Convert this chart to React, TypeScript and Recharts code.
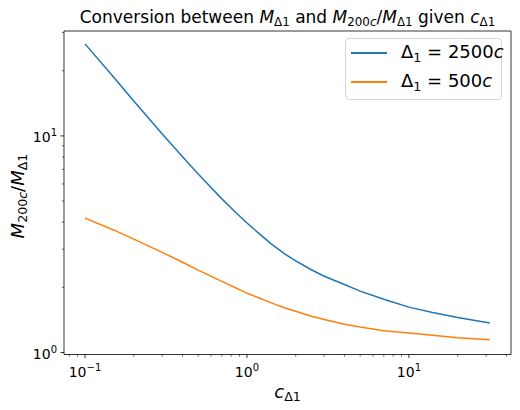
import React from "react";
import { LineChart, Line, XAxis, YAxis, Legend, Label } from "recharts";

// concentration c_Δ1 and the mass ratio M200c / M_Δ1 for each overdensity
const conc = [0.1, 0.15, 0.2, 0.3, 0.4, 0.5, 0.7, 0.85, 1, 1.2, 1.4, 1.7, 2, 2.5, 3, 4, 5, 7, 10, 14, 20, 31.6];
const ratio2500 = [26.6, 18.7, 14.5, 10.2, 8.02, 6.67, 5.12, 4.44, 3.96, 3.52, 3.19, 2.86, 2.65, 2.41, 2.25, 2.06, 1.92, 1.76, 1.62, 1.53, 1.45, 1.37];
const ratio500 = [4.17, 3.68, 3.34, 2.9, 2.61, 2.4, 2.13, 1.99, 1.88, 1.78, 1.7, 1.61, 1.55, 1.47, 1.42, 1.35, 1.31, 1.26, 1.23, 1.2, 1.17, 1.145];

const xMajor = [0.1, 1, 10];
const xMinor = [0.08, 0.09, 0.2, 0.3, 0.4, 0.5, 0.6, 0.7, 0.8, 0.9, 2, 3, 4, 5, 6, 7, 8, 9, 20, 30, 40];
const yMajor = [1, 10];
const yMinor = [2, 3, 4, 5, 6, 7, 8, 9, 20, 30];

const xDomain = [0.0742, 42.7];
const yDomain = [0.979, 30.5];

const BLUE = "#1f77b4";
const ORANGE = "#ff7f0e";
const FONT = "DejaVu Sans";

const rows = conc.map((c, i) => ({ c, d2500: ratio2500[i], d500: ratio500[i] }));

type Part = { t: string; it?: boolean; sub?: boolean };

function mathSpans(parts: Part[], size: number) {
  let shift = 0;
  return parts.map((p, i) => {
    const target = p.sub ? size * 0.22 : 0;
    const dy = target - shift;
    shift = target;
    return (
      <tspan
        key={i}
        dy={dy || undefined}
        fontSize={p.sub ? size * 0.7 : size}
        fontStyle={p.it ? "italic" : "normal"}
      >
        {p.t}
      </tspan>
    );
  });
}

const titleParts: Part[] = [
  { t: "Conversion between " },
  { t: "M", it: true },
  { t: "Δ1", sub: true },
  { t: " and " },
  { t: "M", it: true },
  { t: "200", sub: true },
  { t: "c", it: true, sub: true },
  { t: "/" },
  { t: "M", it: true },
  { t: "Δ1", sub: true },
  { t: " given " },
  { t: "c", it: true },
  { t: "Δ1", sub: true },
];
const yLabelParts: Part[] = [
  { t: "M", it: true },
  { t: "200", sub: true },
  { t: "c", it: true, sub: true },
  { t: "/" },
  { t: "M", it: true },
  { t: "Δ1", sub: true },
];
const xLabelParts: Part[] = [{ t: "c", it: true }, { t: "Δ1", sub: true }];

const supText = (v: number) => {
  const e = Math.round(Math.log10(v));
  return e < 0 ? "\u2212" + Math.abs(e) : String(e);
};

function XTick({ x, y, payload }: any) {
  const v = payload.value;
  const major = xMajor.includes(v);
  return (
    <g>
      <line x1={x} x2={x} y1={y} y2={y + (major ? 3.5 : 2)} stroke="#000" strokeWidth={major ? 0.8 : 0.6} />
      {major && (
        <text x={x} y={y + 22} textAnchor="middle" fontSize={14} fontFamily={FONT} fill="#000">
          10<tspan dy={-6} fontSize={10}>{supText(v)}</tspan>
        </text>
      )}
    </g>
  );
}

function YTick({ x, y, payload }: any) {
  const v = payload.value;
  const major = yMajor.includes(v);
  return (
    <g>
      <line x1={x} x2={x - (major ? 3.5 : 2)} y1={y} y2={y} stroke="#000" strokeWidth={major ? 0.8 : 0.6} />
      {major && (
        <text x={x - 7} y={y + 6} textAnchor="end" fontSize={14} fontFamily={FONT} fill="#000">
          10<tspan dy={-6} fontSize={10}>{supText(v)}</tspan>
        </text>
      )}
    </g>
  );
}

const legendItems = [
  { color: BLUE, value: "2500" },
  { color: ORANGE, value: "500" },
];

function LegendBox() {
  return (
    <div
      style={{
        position: "relative",
        boxSizing: "border-box",
        width: 157,
        height: 62,
        border: "1px solid #d6d6d6",
        borderRadius: 4,
        background: "rgba(255,255,255,0.8)",
        fontFamily: FONT,
        fontSize: 18,
        color: "#000",
      }}
    >
      {legendItems.map((it, i) => (
        <div key={it.value} style={{ position: "absolute", left: 0, top: 13.7 + i * 29, height: 0 }}>
          <div
            style={{
              position: "absolute",
              left: 5,
              top: -1,
              width: 36,
              height: 0,
              borderTop: `2px solid ${it.color}`,
            }}
          />
          <span style={{ position: "absolute", left: 55, top: -12, whiteSpace: "pre", lineHeight: "22px" }}>
            Δ<span style={{ fontSize: 12.6, position: "relative", top: 4 }}>1</span> = {it.value}
            <i>c</i>
          </span>
        </div>
      ))}
    </div>
  );
}

export default function App() {
  return (
    <div style={{ position: "absolute", left: 0, top: 0, width: 520, height: 410, background: "#fff" }}>
      <LineChart width={520} height={410} data={rows} margin={{ top: 31, right: 9, bottom: 25.5, left: 8 }}>
        <XAxis
          dataKey="c"
          type="number"
          scale="log"
          domain={xDomain}
          allowDataOverflow
          ticks={[...xMajor, ...xMinor]}
          interval={0}
          tick={<XTick />}
          tickLine={false}
          tickSize={0}
          tickMargin={0}
          height={30}
          axisLine={{ stroke: "#000", strokeWidth: 0.8 }}
        >
          <Label
            content={() => (
              <text x={287.5} y={397.5} textAnchor="middle" fontFamily={FONT} fill="#000" style={{ whiteSpace: "pre" }}>
                {mathSpans(xLabelParts, 18)}
              </text>
            )}
          />
        </XAxis>
        <YAxis
          type="number"
          scale="log"
          domain={yDomain}
          allowDataOverflow
          ticks={[...yMajor, ...yMinor]}
          interval={0}
          tick={<YTick />}
          tickLine={false}
          tickSize={0}
          tickMargin={0}
          width={56}
          axisLine={{ stroke: "#000", strokeWidth: 0.8 }}
        >
          <Label
            content={() => (
              <text
                x={23.5}
                y={196}
                transform="rotate(-90 23.5 196)"
                textAnchor="middle"
                fontFamily={FONT}
                fill="#000"
                style={{ whiteSpace: "pre" }}
              >
                {mathSpans(yLabelParts, 18)}
              </text>
            )}
          />
        </YAxis>
        <Legend
          layout="vertical"
          align="center"
          verticalAlign="middle"
          wrapperStyle={{ left: 345, top: 38, width: 157, height: 62 }}
          content={() => <LegendBox />}
        />
        <Line dataKey="d2500" name="Δ1 = 2500c" type="linear" stroke={BLUE} strokeWidth={1.5} dot={false} isAnimationActive={false} />
        <Line dataKey="d500" name="Δ1 = 500c" type="linear" stroke={ORANGE} strokeWidth={1.5} dot={false} isAnimationActive={false} />
      </LineChart>
      {/* title and the top/right spines */}
      <svg width={520} height={410} style={{ position: "absolute", left: 0, top: 0, pointerEvents: "none" }}>
        <text x={287.5} y={22.5} textAnchor="middle" fontFamily={FONT} fill="#000" style={{ whiteSpace: "pre" }}>
          {mathSpans(titleParts, 17)}
        </text>
        <polyline points="64,31 511,31 511,354.5" fill="none" stroke="#000" strokeWidth={0.8} />
      </svg>
    </div>
  );
}
